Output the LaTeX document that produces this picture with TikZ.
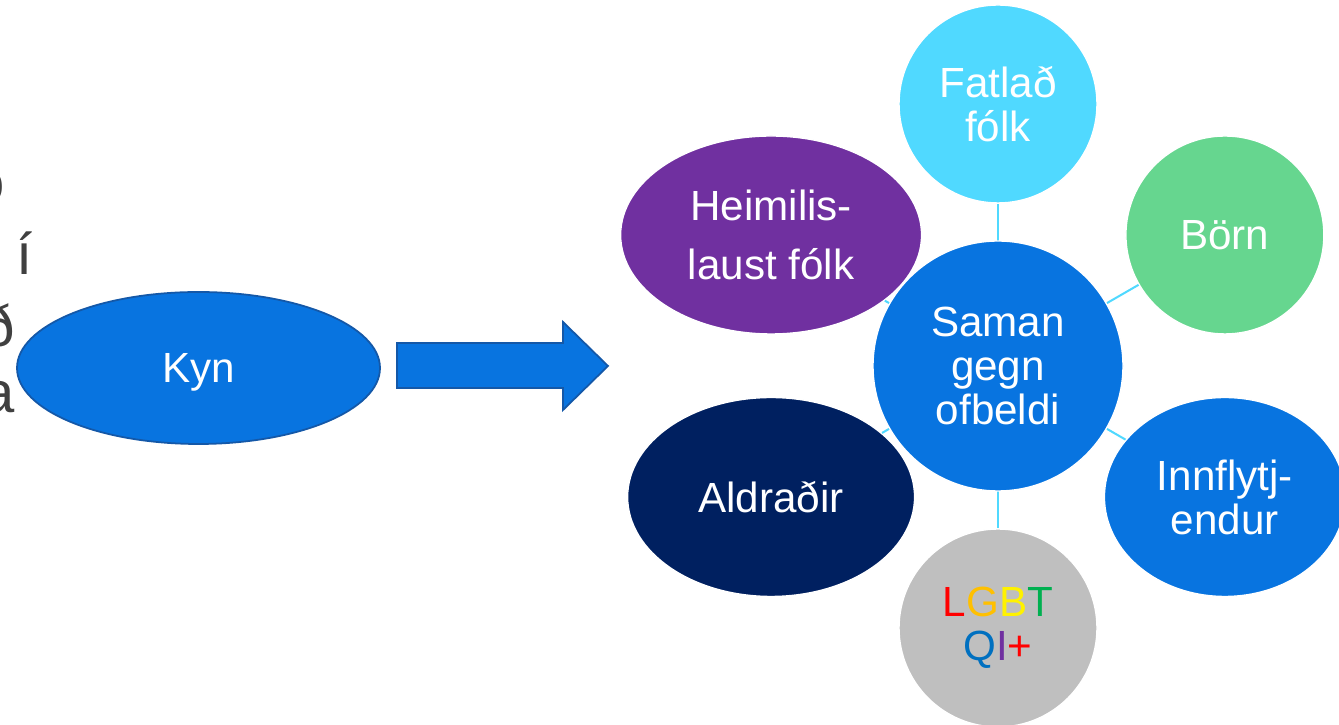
\documentclass[tikz,border=0pt]{standalone}
\usepackage{fontspec}
\setmainfont{Liberation Sans}
\usetikzlibrary{shapes.geometric}

\definecolor{blar}{RGB}{8,116,224}
\definecolor{kynrond}{RGB}{20,88,168}
\definecolor{ljosblar}{RGB}{80,217,255}
\definecolor{graent}{RGB}{102,214,143}
\definecolor{fjolubl}{RGB}{112,48,160}
\definecolor{dokkblar}{RGB}{0,32,96}
\definecolor{grar}{RGB}{191,191,191}
\definecolor{textgrar}{RGB}{64,64,64}
\definecolor{lgG}{RGB}{255,192,0}
\definecolor{lgT}{RGB}{0,176,80}
\definecolor{lgQ}{RGB}{0,112,192}

\tikzset{
  hringur/.style={circle,draw=white,line width=0.8pt,text=white,align=center,minimum size=3.96cm,inner sep=0pt},
  sporoskja/.style={ellipse,draw=white,line width=0.8pt,text=white,align=center,inner sep=0pt},
  tengi/.style={draw=ljosblar,line width=1.15pt},
}

\begin{document}
\begin{tikzpicture}[font=\fontsize{24}{25}\selectfont]
\fill[white] (0,0) rectangle (26.78,14.5);
\useasboundingbox (0,0) rectangle (26.78,14.5);
\clip (0,0) rectangle (26.78,14.5);

% brot af texta
\begin{scope}[font=\fontsize{33}{40}\selectfont,text=textgrar,inner sep=0pt]
\node[anchor=base east] (t1) at (0.10,10.44) {o};
\node[anchor=base east] (t2) at (0.66,9.00) {í};
\node[anchor=base east] (t3) at (0.30,7.56) {ð};
\node[anchor=base east] (t4) at (0.30,6.24) {a};
\end{scope}

\node[ellipse,draw=kynrond,fill=blar,line width=1pt,text=white,text depth=0pt,minimum width=7.26cm,minimum height=3.04cm,inner sep=0pt] (kyn) at (3.97,7.14) {Kyn};

\draw[fill=blar,draw=kynrond,line width=1pt] (7.94,7.64) -- (11.26,7.64) -- (11.26,8.06) -- (12.16,7.18)
  -- (11.26,6.30) -- (11.26,6.74) -- (7.94,6.74) -- cycle;

\coordinate (midja) at (19.96,7.18);

\node[hringur,fill=ljosblar] (fatl) at ([shift={(90:5.24)}]midja) {Fatlað\\fólk};
\node[hringur,fill=graent] (born) at ([shift={(30:5.24)}]midja) {Börn};
\node[sporoskja,fill=blar,minimum width=4.82cm,minimum height=3.98cm] (innfl) at ([shift={(-30:5.24)}]midja) {Innflytj-\\endur};
\node[hringur,fill=grar] (lgbt) at ([shift={(-90:5.24)}]midja)
  {\textcolor{red}{L}\textcolor{lgG}{G}\textcolor{yellow}{B}\textcolor{lgT}{T}\\\textcolor{lgQ}{Q}\textcolor{fjolubl}{I}\textcolor{red}{+}};
\node[sporoskja,fill=dokkblar,minimum width=5.74cm,minimum height=3.98cm] (aldr) at ([shift={(210:5.24)}]midja) {Aldraðir};
\node[sporoskja,fill=fjolubl,minimum width=6.02cm,minimum height=3.96cm] (heim) at ([shift={(150:5.24)}]midja) {Heimilis-\\[9pt]laust fólk};

\foreach \n in {fatl,born,innfl,lgbt,aldr,heim}
  \draw[tengi] (midja) -- (\n);

\node[hringur,fill=blar,minimum size=5cm] (sog) at (midja) {Saman\\gegn\\ofbeldi};

\end{tikzpicture}
\end{document}
